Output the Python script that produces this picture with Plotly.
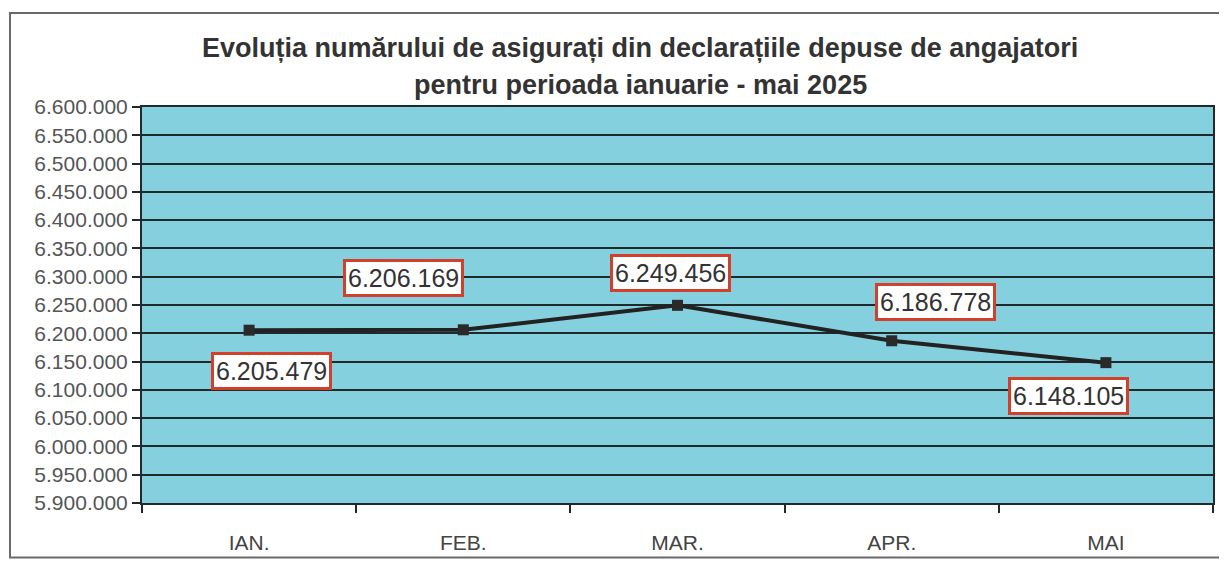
import plotly.graph_objects as go

# date
luni = ['IAN.', 'FEB.', 'MAR.', 'APR.', 'MAI']
asigurati = [6205479, 6206169, 6249456, 6186778, 6148105]
y_ticks = list(range(5900000, 6600001, 50000))

# decalaj etichete fata de punct (pixeli)
label_dx = [22, -60, -7, 44, -37]
label_dy = [41, -52, -32, -39, 33]

FONT = 'Liberation Sans, Arial, sans-serif'
DARK = '#1f2b2b'


def fmt(v):
    return f'{v:,}'.replace(',', '.')


fig = go.Figure()

fig.add_trace(go.Scatter(
    x=luni,
    y=asigurati,
    mode='lines+markers',
    line=dict(color='#222222', width=4),
    marker=dict(symbol='square', size=11, color='#2a2a2a'),
    hoverinfo='skip',
    showlegend=False
))

# etichete cu chenar rosu
for luna, val, dx, dy in zip(luni, asigurati, label_dx, label_dy):
    fig.add_annotation(
        x=luna, y=val,
        text=fmt(val),
        showarrow=True, arrowcolor='rgba(0,0,0,0)', arrowwidth=0.1,
        ax=dx, ay=dy,
        font=dict(family=FONT, size=25, color='#333333'),
        bgcolor='white',
        bordercolor='#d2402c',
        borderwidth=3,
        borderpad=2
    )

# titlu pe doua randuri
title_x = (640 - 142) / 1071
fig.add_annotation(
    text='<b>Evoluția numărului de asigurați din declarațiile depuse de angajatori</b>',
    xref='paper', yref='paper', x=title_x, y=(507 - 47) / 400, yanchor='middle',
    showarrow=False, font=dict(family=FONT, size=27, color='#333333')
)
fig.add_annotation(
    text='<b>pentru perioada ianuarie - mai 2025</b>',
    xref='paper', yref='paper', x=title_x, y=(507 - 85) / 400, yanchor='middle',
    showarrow=False, font=dict(family=FONT, size=27, color='#333333')
)

# chenar exterior
fig.add_shape(
    type='rect', xref='paper', yref='paper',
    x0=(10 - 142) / 1071, x1=(1222 - 142) / 1071,
    y0=(507 - 562) / 400, y1=(507 - 12) / 400,
    line=dict(color='#6a6a6a', width=2), layer='below'
)

fig.update_layout(
    width=1219,
    height=558,
    margin=dict(l=134, r=14, t=99, b=59),
    paper_bgcolor='white',
    plot_bgcolor='#85d0de',
    separators=',.',
    font=dict(family=FONT),
    xaxis=dict(
        type='category',
        range=[-0.5, 4.5],
        tickson='boundaries',
        ticks='outside',
        ticklen=8,
        tickwidth=2,
        tickcolor=DARK,
        showgrid=False,
        showline=True,
        linecolor=DARK,
        linewidth=2,
        mirror=True,
        ticklabelstandoff=20,
        tickfont=dict(family=FONT, size=21, color='#444444')
    ),
    yaxis=dict(
        range=[5900000, 6600000],
        tickvals=y_ticks,
        tickformat=',d',
        ticks='outside',
        ticklen=8,
        tickwidth=2,
        tickcolor=DARK,
        showgrid=True,
        gridcolor=DARK,
        gridwidth=2,
        zeroline=False,
        showline=True,
        linecolor=DARK,
        linewidth=2,
        mirror=True,
        tickfont=dict(family=FONT, size=21, color='#555555')
    )
)

fig.write_html('out.html')
